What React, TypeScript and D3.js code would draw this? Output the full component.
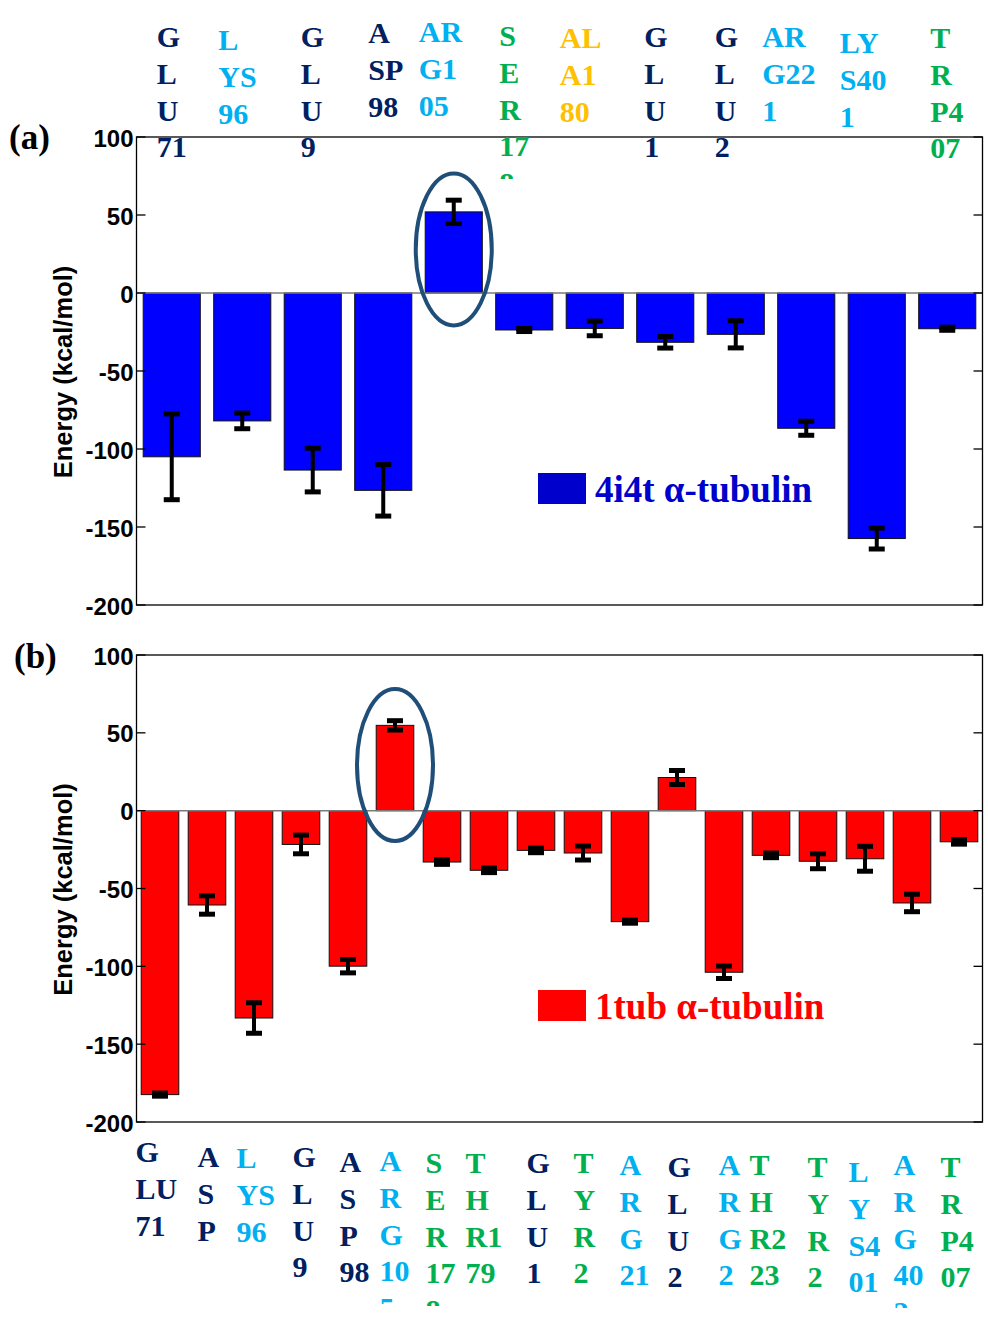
import React from "react";
import * as d3 from "d3";

// ---------- data ----------
const valuesA = [-105, -82, -113.5, -126.5, 52, -23.7, -22.7, -31.6, -26.5, -86.7, -157.4, -22.9];
const errorsA = [27.5, 5, 14, 16.5, 7.5, 1, 4.7, 3.7, 8.7, 4.5, 6.7, 1];
const labelsA = [
  ["G", "L", "U", "71"], ["L", "YS", "96"], ["G", "L", "U", "9"], ["A", "SP", "98"],
  ["AR", "G1", "05"], ["S", "E", "R", "17", "8"], ["AL", "A1", "80"], ["G", "L", "U", "1"],
  ["G", "L", "U", "2"], ["AR", "G22", "1"], ["LY", "S40", "1"], ["T", "R", "P4", "07"],
];
const kindsA = ["acid", "basic", "acid", "acid", "basic", "polar", "hydro", "acid", "acid", "basic", "basic", "polar"];

const valuesB = [-182.4, -60.6, -133.2, -21.7, -99.9, 54.8, -33, -38.3, -25.5, -27.2, -71.3, 21.3, -103.8, -28.7, -32.5, -30.9, -59.3, -20];
const errorsB = [1, 5.9, 9.8, 6, 4.3, 3, 1.5, 1.5, 1.5, 4.5, 1, 4.5, 4, 1.5, 4.8, 8, 5.6, 1.5];
const labelsB = [
  ["G", "LU", "71"], ["A", "S", "P"], ["L", "YS", "96"], ["G", "L", "U", "9"],
  ["A", "S", "P", "98"], ["A", "R", "G", "10", "5"], ["S", "E", "R", "17", "8"], ["T", "H", "R1", "79"],
  ["G", "L", "U", "1"], ["T", "Y", "R", "2"], ["A", "R", "G", "21"], ["G", "L", "U", "2"],
  ["A", "R", "G", "2"], ["T", "H", "R2", "23"], ["T", "Y", "R", "2"], ["L", "Y", "S4", "01"],
  ["A", "R", "G", "40", "2"], ["T", "R", "P4", "07"],
];
const kindsB = ["acid", "acid", "basic", "acid", "acid", "basic", "polar", "polar", "acid", "polar", "basic", "acid", "basic", "polar", "polar", "basic", "basic", "polar"];

const yTicks = [100, 50, 0, -50, -100, -150, -200];
const legendA = "4i4t α-tubulin";
const legendB = "1tub α-tubulin";
const yTitle = "Energy (kcal/mol)";

// ---------- layout / style ----------
const kindColor: Record<string, string> = {
  acid: "#002060",
  basic: "#00B0F0",
  polar: "#00B050",
  hydro: "#FFC000",
};
// label placement nudges (relative to band centre) and first-line baselines
const nudgeA = [-15, -24, -12, -15, -35, -25, -35, -21, -21, -44, -37, -17];
const baseA = [47, 50, 47, 43, 42, 46, 48, 47, 47, 47, 53, 48];
const nudgeB = [-24.5, -9.5, -17.5, -8.5, -8.5, -15.5, -16.5, -23.5, -9.5, -9.5, -10.5, -9.5, -5.5, -21.5, -10.5, -16.5, -18.5, -18.5];
const baseB = [1162, 1167, 1168, 1167, 1172, 1171, 1173, 1173, 1173, 1173, 1175, 1177, 1175, 1175, 1177, 1182, 1175, 1177];

const SERIF = "'Liberation Serif', 'Times New Roman', serif";
const SANS = "'Liberation Sans', Arial, sans-serif";
const LEFT = 136.5;
const RIGHT = 982.5;

type PanelProps = {
  id: string;
  top: number;
  bottom: number;
  values: number[];
  errors: number[];
  fill: string;
  padInner: number;
  padOuter: number;
  tag: string;
  tagY: number;
  tagX: number;
  legend: string;
  legendColor: string;
  legendSquare: string;
  legendY: number;
  circleIndex: number;
};

function Panel(p: PanelProps) {
  const y = d3.scaleLinear().domain([-200, 100]).range([p.bottom, p.top]);
  const x = d3
    .scaleBand<number>()
    .domain(p.values.map((_, i) => i))
    .range([LEFT, RIGHT])
    .paddingInner(p.padInner)
    .paddingOuter(p.padOuter);
  const bw = x.bandwidth();
  const ci = p.circleIndex;
  const cx = (x(ci) as number) + bw / 2;
  const cv = p.values[ci];
  return (
    <g>
      {/* bars */}
      {p.values.map((v, i) => (
        <rect
          key={"b" + i}
          x={x(i) as number}
          y={y(Math.max(0, v))}
          width={bw}
          height={Math.abs(y(v) - y(0))}
          fill={p.fill}
          stroke="#111"
          strokeWidth={1}
        />
      ))}
      {/* zero line */}
      <line x1={LEFT} x2={RIGHT} y1={y(0)} y2={y(0)} stroke="#7a7a7a" strokeWidth={1.5} />
      {/* error bars */}
      {p.values.map((v, i) => {
        const c = (x(i) as number) + bw / 2;
        const e = p.errors[i];
        return (
          <g key={"e" + i} stroke="#000">
            <line x1={c} x2={c} y1={y(v + e)} y2={y(v - e)} strokeWidth={4} />
            <line x1={c - 8} x2={c + 8} y1={y(v + e)} y2={y(v + e)} strokeWidth={5} />
            <line x1={c - 8} x2={c + 8} y1={y(v - e)} y2={y(v - e)} strokeWidth={5} />
          </g>
        );
      })}
      {/* frame */}
      <rect x={LEFT} y={p.top} width={RIGHT - LEFT} height={p.bottom - p.top} fill="none" stroke="#000" strokeWidth={1.3} />
      {/* ticks */}
      {yTicks.map((t) => (
        <g key={"t" + t}>
          <line x1={LEFT} x2={LEFT + 9} y1={y(t)} y2={y(t)} stroke="#000" strokeWidth={1.3} />
          <line x1={RIGHT - 9} x2={RIGHT} y1={y(t)} y2={y(t)} stroke="#000" strokeWidth={1.3} />
          <text
            x={LEFT - 3}
            y={y(t) + 1}
            textAnchor="end"
            dominantBaseline="central"
            fontFamily={SANS}
            fontWeight="bold"
            fontSize={24}
            fill="#000"
          >
            {t}
          </text>
        </g>
      ))}
      {/* y title */}
      <text
        transform={`translate(72,${y(-50) + 1}) rotate(-90)`}
        textAnchor="middle"
        fontFamily={SANS}
        fontWeight="bold"
        fontSize={25.5}
        fill="#000"
      >
        {yTitle}
      </text>
      {/* panel tag */}
      <text x={p.tagX} y={p.tagY} fontFamily={SERIF} fontWeight="bold" fontSize={35} fill="#000">
        {p.tag}
      </text>
      {/* highlight ellipse */}
      <ellipse
        cx={cx}
        cy={y(cv / 2) - 3}
        rx={38}
        ry={76}
        fill="none"
        stroke="#1F4E79"
        strokeWidth={4}
      />
      {/* legend */}
      <rect x={538} y={p.legendY - 29} width={48} height={31} fill={p.legendSquare} />
      <text x={595} y={p.legendY} fontFamily={SERIF} fontWeight="bold" fontSize={37} fill={p.legendColor}>
        {p.legend}
      </text>
    </g>
  );
}

function ResidueLabels(props: {
  id: string;
  values: number[];
  lines: string[][];
  kinds: string[];
  nudge: number[];
  base: number[];
  padInner: number;
  padOuter: number;
}) {
  const x = d3
    .scaleBand<number>()
    .domain(props.values.map((_, i) => i))
    .range([LEFT, RIGHT])
    .paddingInner(props.padInner)
    .paddingOuter(props.padOuter);
  const bw = x.bandwidth();
  const lh = 36.8;
  return (
    <g>
      <defs>
        {props.lines.map((_, i) => (
          <clipPath id={`${props.id}-clip-${i}`} key={i}>
            <rect x={0} y={props.base[i] - 40} width={988} height={173} />
          </clipPath>
        ))}
      </defs>
      {props.lines.map((ls, i) => {
        const left = (x(i) as number) + bw / 2 + props.nudge[i];
        return (
          <g key={i} clipPath={`url(#${props.id}-clip-${i})`}>
            {ls.map((s, j) => (
              <text
                key={j}
                x={left}
                y={props.base[i] + j * lh}
                fontFamily={SERIF}
                fontWeight="bold"
                fontSize={30}
                fill={kindColor[props.kinds[i]]}
              >
                {s}
              </text>
            ))}
          </g>
        );
      })}
    </g>
  );
}

export default function App() {
  return (
    <svg
      width={988}
      height={1320}
      viewBox="0 0 988 1320"
      style={{ position: "absolute", left: 0, top: 0, display: "block", background: "#fff" }}
    >
      <rect x={0} y={0} width={988} height={1320} fill="#fff" />
      <Panel
        id="a"
        top={137}
        bottom={605}
        values={valuesA}
        errors={errorsA}
        fill="#0000FF"
        padInner={0.19}
        padOuter={0.095}
        tag="(a)"
        tagX={9}
        tagY={149}
        legend={legendA}
        legendColor="#0000CC"
        legendSquare="#0000CC"
        legendY={502}
        circleIndex={4}
      />
      <Panel
        id="b"
        top={655}
        bottom={1122}
        values={valuesB}
        errors={errorsB}
        fill="#FF0000"
        padInner={0.2}
        padOuter={0.1}
        tag="(b)"
        tagX={14}
        tagY={668}
        legend={legendB}
        legendColor="#FF0000"
        legendSquare="#FF0000"
        legendY={1019}
        circleIndex={5}
      />
      <ResidueLabels id="la" values={valuesA} lines={labelsA} kinds={kindsA} nudge={nudgeA} base={baseA} padInner={0.19} padOuter={0.095} />
      <ResidueLabels id="lb" values={valuesB} lines={labelsB} kinds={kindsB} nudge={nudgeB} base={baseB} padInner={0.2} padOuter={0.1} />
    </svg>
  );
}
